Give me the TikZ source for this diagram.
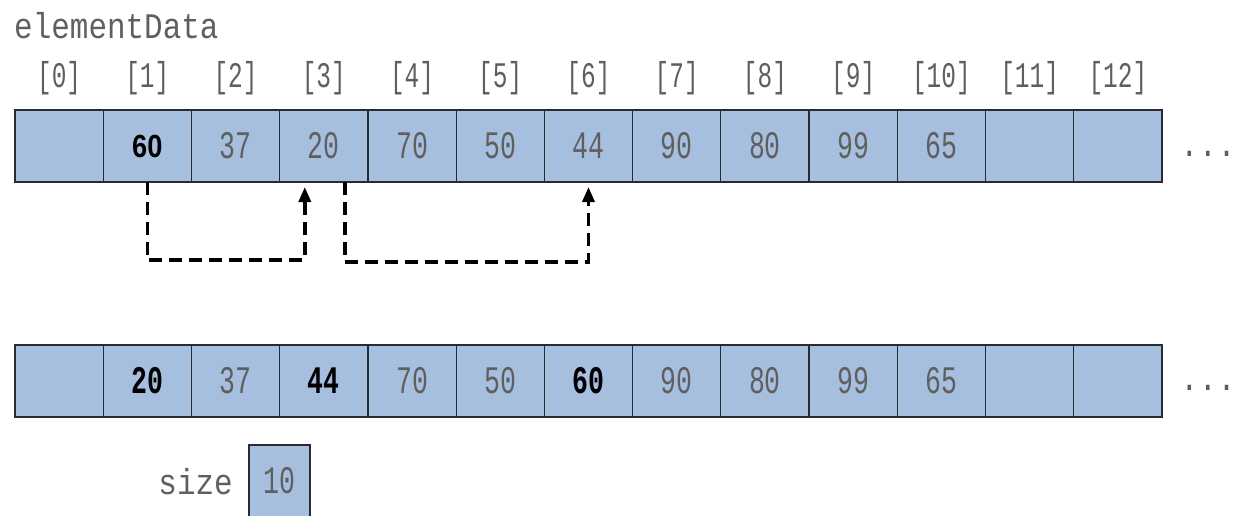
\documentclass[tikz,border=0pt]{standalone}
\usepackage{fontspec}
\usetikzlibrary{arrows.meta}
\newfontfamily\cellfont[FakeStretch=0.68]{Liberation Mono}
\newfontfamily\labfont[FakeStretch=0.86]{Liberation Mono}
\newfontfamily\boldsans[FakeStretch=0.85]{Liberation Sans}
\definecolor{cellblue}{RGB}{167,191,222}
\definecolor{txtgray}{RGB}{95,95,95}
\definecolor{edge}{RGB}{40,44,50}
\tikzset{
  cell/.style={draw=edge, fill=cellblue, line width=1.3pt, minimum width=88.23pt,
    minimum height=72pt, inner sep=0pt, outer sep=0pt, text=txtgray,
    font=\cellfont\fontsize{39}{39}\selectfont},
  hi/.style={text=black, font=\cellfont\bfseries\fontsize{39}{39}\selectfont},
  hisans/.style={text=black, font=\boldsans\bfseries\fontsize{32}{32}\selectfont},
  idx/.style={text=txtgray, inner sep=0pt, font=\cellfont\fontsize{36}{36}\selectfont},
  plain/.style={text=txtgray, inner sep=0pt, font=\labfont\fontsize{36}{36}\selectfont},
  dashline/.style={draw=black, line width=3.5pt, dash pattern=on 13pt off 7pt,
    -{Triangle[length=15pt,width=12pt]}}
}
\begin{document}
\begin{tikzpicture}[x=1pt,y=-1pt]
\useasboundingbox (0,0) rectangle (1235,515);
\clip (0,0) rectangle (1235,515);
% title
\node[plain, anchor=base west] (title) at (14,38) {elementData};
% index labels
\foreach \i in {0,...,12}{
  \node[idx] (l\i) at ({15+88.23*(\i+0.5)},78) {[\i]};
}
% top row
\foreach \i/\t/\s in {0//cell,1/60/hisans,2/37/cell,3/20/cell,4/70/cell,5/50/cell,6/44/cell,7/90/cell,8/80/cell,9/99/cell,10/65/cell,11//cell,12//cell}{
  \node[cell, \s] (a\i) at ({15+88.23*(\i+0.5)},146) {\t};
}
% bottom row
\foreach \i/\t/\s in {0//cell,1/20/hi,2/37/cell,3/44/hi,4/70/cell,5/50/cell,6/60/hi,7/90/cell,8/80/cell,9/99/cell,10/65/cell,11//cell,12//cell}{
  \node[cell, \s] (b\i) at ({15+88.23*(\i+0.5)},380.5) {\t};
}
\draw[edge, line width=2pt] (a0.north west) rectangle (a12.south east);
\draw[edge, line width=2pt] (b0.north west) rectangle (b12.south east);
% ellipses
\node[plain, anchor=base] (d1) at (1208,156) {...};
\node[plain, anchor=base] (d2) at (1208,390) {...};
% dashed moves
\draw[dashline] (a1.south) -- ++(0,78) -| ([xshift=-19pt,yshift=-5pt]a3.south);
\draw[dashline] ([xshift=21pt]a3.south) -- ++(0,80) -| ([yshift=-5pt]a6.south);
% size
\node[plain, anchor=base east] (sizelab) at (233,494) {size};
\node[cell, minimum width=61pt, minimum height=72pt] (size) at (279.5,481) {10};
\end{tikzpicture}
\end{document}
